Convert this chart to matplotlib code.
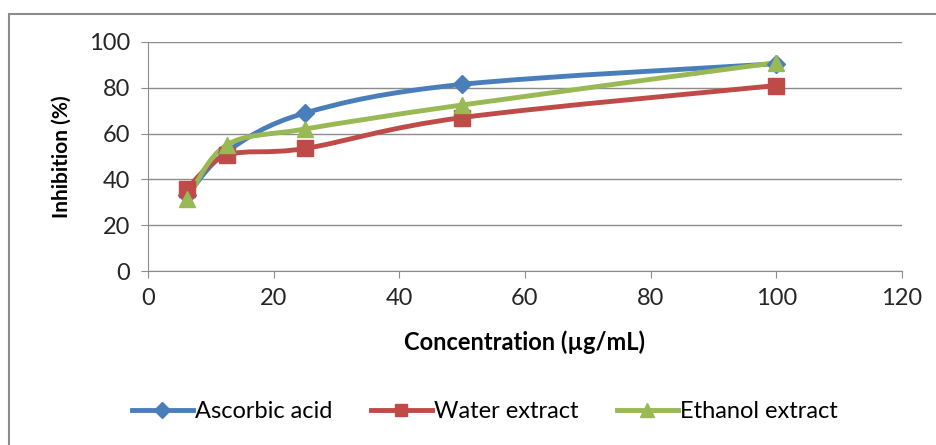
import numpy as np
import matplotlib.pyplot as plt
from matplotlib.path import Path
from matplotlib.patches import PathPatch, Rectangle
from matplotlib.lines import Line2D

plt.rcParams['font.family'] = ['Lato', 'DejaVu Sans']

# datos
concentracion = [6.25, 12.5, 25, 50, 100]
ascorbico = [33, 52, 69, 81.5, 90.5]
agua = [36, 50.5, 53.5, 67, 81]
etanol = [31.5, 55, 62, 72.5, 91]

series = [
    ('Ascorbic acid', ascorbico, '#4A7EBB', 'D', 9),
    ('Water extract', agua, '#BE4B48', 's', 11),
    ('Ethanol extract', etanol, '#98B954', '^', 12),
]


def curva_suave(ax, xs, ys, color):
    # curva tipo Excel (bezier con tangentes catmull-rom)
    xs = np.asarray(xs, float)
    ys = np.asarray(ys, float)
    verts = [(xs[0], ys[0])]
    codes = [Path.MOVETO]
    n = len(xs)
    for i in range(n - 1):
        p0 = np.array([xs[max(i - 1, 0)], ys[max(i - 1, 0)]])
        p1 = np.array([xs[i], ys[i]])
        p2 = np.array([xs[i + 1], ys[i + 1]])
        p3 = np.array([xs[min(i + 2, n - 1)], ys[min(i + 2, n - 1)]])
        c1 = p1 + (p2 - p0) / 6
        c2 = p2 - (p3 - p1) / 6
        verts += [tuple(c1), tuple(c2), tuple(p2)]
        codes += [Path.CURVE4] * 3
    ax.add_patch(PathPatch(Path(verts, codes), facecolor='none', edgecolor=color,
                           lw=3.5, capstyle='round', joinstyle='round'))


fig = plt.figure(figsize=(9.36, 4.45), dpi=100)
fig.patches.append(Rectangle((9 / 936, -0.1), 1.2, 1 - 14 / 445 + 0.1, transform=fig.transFigure,
                             facecolor='none', edgecolor='#8c8c8c', lw=1.5))
ax = fig.add_axes([148 / 936, 1 - 271 / 445, (902 - 148) / 936, (271 - 42) / 445])

for nombre, valores, color, marca, tam in series:
    curva_suave(ax, concentracion, valores, color)
    ax.plot(concentracion, valores, linestyle='none', marker=marca, markersize=tam,
            color=color, zorder=3)

ax.set_xlim(0, 120)
ax.set_ylim(0, 100)
ax.set_xticks(range(0, 121, 20))
ax.set_yticks(range(0, 101, 20))
ax.grid(axis='y', color='#8c8c8c', lw=1)
ax.set_axisbelow(True)
for s in ['top', 'right']:
    ax.spines[s].set_visible(False)
for s in ['left', 'bottom']:
    ax.spines[s].set_color('#8c8c8c')
ax.tick_params(axis='both', colors='#8c8c8c', labelcolor='#262626', labelsize=17, length=5)
ax.tick_params(axis='x', pad=7)
ax.tick_params(axis='y', pad=8)
ax.set_xlabel('Concentration (µg/mL)', fontsize=17, fontweight='bold', labelpad=16)
ax.set_ylabel('Inhibition (%)', fontsize=15, fontweight='bold', labelpad=12)

manejadores = [Line2D([], [], color=c, lw=3.5, marker=m, markersize=t * 0.85)
               for _, _, c, m, t in series]
fig.legend(manejadores, [s[0] for s in series], loc='center', bbox_to_anchor=(0.518, 1 - 412 / 445),
           ncol=3, frameon=False, fontsize=17, handlelength=2.6, handletextpad=0.1,
           columnspacing=1.6)

fig.savefig('out.png', dpi=100)
